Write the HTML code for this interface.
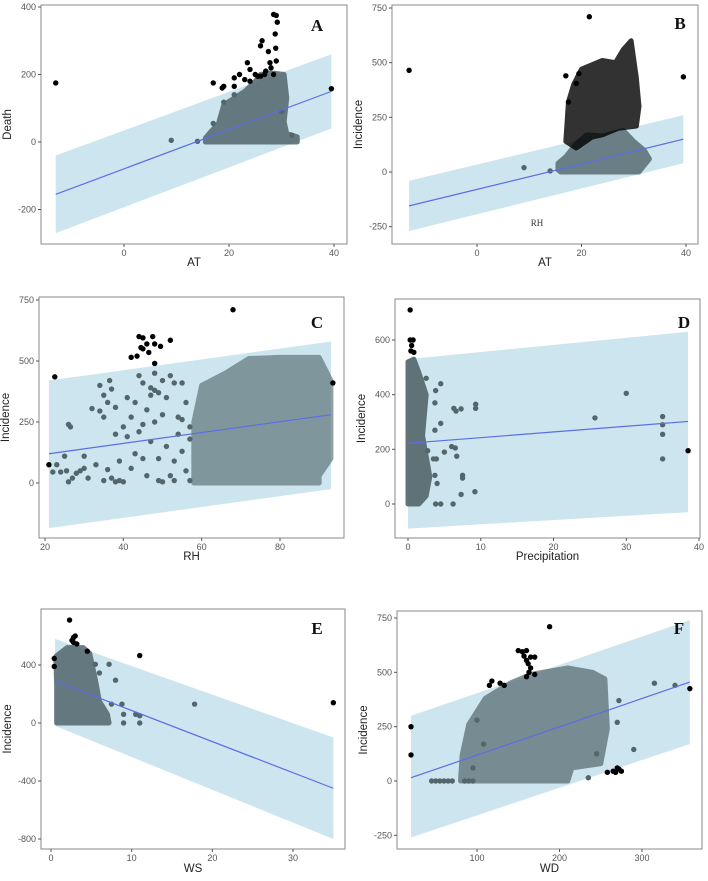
<!DOCTYPE html>
<html><head><meta charset="utf-8"><style>
body{margin:0;background:#fff}
svg{display:block;font-family:"Liberation Sans",sans-serif}
</style></head><body>
<svg id="fig" width="708" height="881" viewBox="0 0 708 881"></svg>
<script>
// ---- Panel A data ----
const aBand=[[-13,-270,-40],[39.5,40,260]];
const aLine=[[-13,-155],[39.5,150]];
const aCloud=[[15.5,0],[33,0],[33,15],[31,25],[30.5,60],[31,130],[30.5,200],[28,205],[26,200],[25,180],[23,150],[21,130],[19,110],[18,55],[16.5,30],[15.5,12]];
const aGray=[[9,5],[14,2],[19,118],[21,140],[17,55],[32,20],[30,90]];
const aBlack=[[-13,175],[39.5,158],[28.5,378],[29,375],[29.2,355],[26.3,300],[26,285],[28.8,320],[28.9,278],[27.5,268],[23.5,235],[24,215],[22,200],[21,190],[17,175],[19,165],[18.7,160],[21,165],[23,185],[24,180],[25,200],[26,195],[27,210],[28,220],[29,240],[27.8,235],[28.5,200],[26.8,200],[25.5,195]];
const aXTicks=[0,20,40], aYTicks=[-200,0,200,400];
// ---- Panel B data ----
const bBand=[[-13,-270,-40],[39.5,40,260]];
const bLine=[[-13,-155],[39.5,150]];
const bCloud=[[16,0],[31,0],[33,60],[32,100],[30,140],[28,190],[24,165],[21,170],[19,130],[17,70],[15.5,40],[15.5,10]];
const bCloud2=[[17,140],[19,110],[22,160],[24,170],[27,200],[30.5,210],[31,300],[30.5,430],[29.5,600],[28,560],[26.5,500],[24,510],[22,490],[20,470],[18.5,400],[17.5,320]];
const bGray=[[9,20],[14,5]];
const bBlack=[[-13,465],[39.5,435],[21.5,710],[17,440],[19,405],[19.5,450],[17.5,320]];
const bXTicks=[0,20,40], bYTicks=[-250,0,250,500,750];
// ---- Panel C data ----
const cBand=[[21,-185,420],[93,-25,580]];
const cLine=[[21,120],[93,280]];
const cCloud=[[58,0],[90,0],[90,30],[93,100],[93,290],[93,420],[90,515],[80,515],[72,510],[66,450],[60,400],[58,250]];
const cGray=[[22,45],[23,75],[24,45],[25,110],[26,240],[26.5,230],[25.5,50],[27,20],[26,5],[28,40],[30,110],[29,50],[32,305],[33,75],[34,295],[34,400],[35,360],[35,270],[36,330],[36.5,420],[37,385],[36,55],[37,20],[38,310],[38,200],[39,90],[39,10],[40,230],[41,350],[41,190],[42,60],[42,270],[43,330],[43,120],[44,440],[44,210],[45,240],[45,410],[46,300],[46,30],[47,360],[47,170],[48,380],[48,250],[49,100],[49,10],[50,420],[50,280],[51,150],[51,350],[52,440],[52,30],[53,410],[53,90],[54,270],[54,200],[55,410],[55,130],[56,50],[56,330],[57,230],[57,10],[53,10],[48,450],[45,100],[40,5],[30,60],[31,20],[35,10],[38,5],[50,5],[47,390],[49,370],[55,260],[57,180]];
const cBlack=[[22.5,435],[44,600],[45,595],[47.5,600],[52,585],[44.5,555],[46,570],[48,570],[49.5,560],[45,550],[46.5,535],[42,515],[43.5,520],[48,490],[68,710],[93.5,410],[21,75]];
const cXTicks=[20,40,60,80], cYTicks=[0,250,500,750];
// ---- Panel D data ----
const dBand=[[0,-90,530],[38.5,-30,630]];
const dLine=[[0,222],[38.5,302]];
const dCloud=[[0,0],[1.5,0],[2.5,30],[3,100],[2,250],[2.5,400],[1.5,480],[0.8,530],[0,520]];
const dGray=[[2.5,460],[4.5,440],[3.8,415],[3.7,370],[6.3,350],[6.6,340],[7.3,348],[9.3,365],[9.3,350],[4.5,295],[3.7,270],[6,210],[6.5,205],[5,190],[6.7,175],[2.7,195],[3.5,165],[3.9,165],[3.7,105],[7.5,105],[7.5,95],[4,75],[9.2,45],[7.3,35],[3.8,0],[4.5,0],[6.2,0],[25.7,315],[30,405],[35,320],[35,290],[35,255],[35,165]];
const dBlack=[[0.3,710],[0.3,600],[0.7,600],[0.5,580],[0.4,560],[0.8,555],[38.5,195]];
const dXTicks=[0,10,20,30,40], dYTicks=[0,200,400,600];
// ---- Panel E data ----
const eBand=[[0.5,-20,580],[35,-800,-100]];
const eLine=[[0.5,290],[35,-450]];
const eCloud=[[0.7,0],[7.2,0],[7,60],[6,150],[5.5,300],[4.8,480],[4,520],[2,520],[0.6,460],[0.7,250]];
const eGray=[[7.2,405],[5.5,405],[8,295],[6,345],[7.5,130],[8.8,130],[9,60],[9,0],[10.5,60],[11,50],[11,0],[17.8,130]];
const eBlack=[[2.3,710],[3,600],[2.8,590],[2.6,570],[2.8,555],[3.2,545],[4.5,495],[0.4,445],[0.4,390],[11,465],[35,140]];
const eXTicks=[0,10,20,30], eYTicks=[-800,-400,0,400];
// ---- Panel F data ----
const fBand=[[20,-260,300],[358,170,740]];
const fLine=[[20,15],[358,455]];
const fCloud=[[80,0],[210,0],[215,60],[250,80],[258,240],[255,470],[240,500],[210,520],[165,490],[140,450],[110,380],[90,260],[82,120]];
const fGray=[[45,0],[50,0],[55,0],[60,0],[65,0],[70,0],[85,0],[90,0],[95,0],[235,15],[270,270],[272,370],[290,145],[315,450],[340,440],[245,125],[108,170],[100,280],[95,60]];
const fBlack=[[20,250],[20,120],[188,710],[150,600],[155,595],[160,600],[157,575],[165,570],[170,570],[160,555],[162,540],[165,520],[163,500],[160,480],[170,490],[115,440],[118,460],[128,450],[133,440],[358,425],[258,40],[265,45],[270,60],[275,45],[272,55],[268,40]];
const fXTicks=[100,200,300], fYTicks=[-250,0,250,500,750];

const NS="http://www.w3.org/2000/svg";
const svg=document.getElementById('fig');
function mk(tag,attrs,parent){const e=document.createElementNS(NS,tag);for(const k in attrs)e.setAttribute(k,attrs[k]);(parent||svg).appendChild(e);return e;}
function lin(v0,p0,v1,p1){return v=>p0+(v-v0)*(p1-p0)/(v1-v0);}

const panels=[
 {id:'a',box:[41,5,347,244],sx:lin(0,124,40,334),sy:lin(0,142,400,7),band:aBand,line:aLine,clouds:[[aCloud,'#52666c',0.85]],gray:aGray,black:aBlack,xt:aXTicks,yt:aYTicks,xl:'AT',yl:'Death',let:'A',lp:[317,31],xly:266},
 {id:'b',box:[392,5,698,244],sx:lin(0,477,40,686),sy:lin(0,172,750,8),band:bBand,line:bLine,clouds:[[bCloud,'#52666c',0.8],[bCloud2,'#000',0.8]],gray:bGray,black:bBlack,xt:bXTicks,yt:bYTicks,xl:'AT',yl:'Incidence',let:'B',lp:[680,29],xly:266},
 {id:'c',box:[39,297,344,538],sx:lin(20,45,80,280),sy:lin(0,483,750,300),band:cBand,line:cLine,clouds:[[cCloud,'#52666c',0.62]],gray:cGray,black:cBlack,xt:cXTicks,yt:cYTicks,xl:'RH',yl:'Incidence',let:'C',lp:[317,328],xly:560},
 {id:'d',box:[395,299,700,538],sx:lin(0,408,40,699),sy:lin(0,504,600,340),band:dBand,line:dLine,clouds:[[dCloud,'#52666c',0.9]],gray:dGray,black:dBlack,xt:dXTicks,yt:dYTicks,xl:'Precipitation',yl:'Incidence',let:'D',lp:[684,328],xly:560},
 {id:'e',box:[41,609,345,849],sx:lin(0,51,30,293),sy:lin(0,723,400,665),band:eBand,line:eLine,clouds:[[eCloud,'#52666c',0.85]],gray:eGray,black:eBlack,xt:eXTicks,yt:eYTicks,xl:'WS',yl:'Incidence',let:'E',lp:[317,634],xly:872},
 {id:'f',box:[397,611,702,849],sx:lin(100,477,300,642),sy:lin(0,781,750,618),band:fBand,line:fLine,clouds:[[fCloud,'#52666c',0.7]],gray:fGray,black:fBlack,xt:fXTicks,yt:fYTicks,xl:'WD',yl:'Incidence',let:'F',lp:[679,634],xly:872}
];

panels.forEach(p=>{
  const g=mk('g',{});
  
  
  const [x0,y0,x1,y1]=p.box;
  const b=p.band;
  const pts=b.map(r=>p.sx(r[0])+','+p.sy(r[2])).concat(b.slice().reverse().map(r=>p.sx(r[0])+','+p.sy(r[1])));
  const band=mk('polygon',{points:pts.join(' '),fill:'#cde5ee'},g);
  
  
  p.clouds.forEach(c=>{
    const cg=mk('g',{opacity:c[2]},g);
    const poly=mk('polygon',{points:c[0].map(q=>p.sx(q[0])+','+p.sy(q[1])).join(' '),fill:c[1],stroke:c[1],'stroke-width':5,'stroke-linejoin':'round'},cg);
    
    
  });
  p.gray.forEach(q=>{
    const c=mk('circle',{cx:p.sx(q[0]),cy:p.sy(q[1]),r:2.7,fill:'#52666c'},g);
    
    
  });
  const l=mk('line',{x1:p.sx(p.line[0][0]),y1:p.sy(p.line[0][1]),x2:p.sx(p.line[1][0]),y2:p.sy(p.line[1][1]),stroke:'#5a6ee6','stroke-width':1.2},g);
  
  
  p.black.forEach(q=>{
    const c=mk('circle',{cx:p.sx(q[0]),cy:p.sy(q[1]),r:2.7,fill:'#000'},g);
    
    
  });
  const fr=mk('rect',{x:x0,y:y0,width:x1-x0,height:y1-y0,fill:'none',stroke:'#8a8a8a','stroke-width':1},g);
  
  
  p.xt.forEach(t=>{
    const x=p.sx(t);
    mk('line',{x1:x,y1:y1,x2:x,y2:y1+3,stroke:'#555'},g);
    const tx=mk('text',{x:x,y:y1+12,'font-size':9,fill:'#555','text-anchor':'middle'},g);
    tx.textContent=t;
    
    
  });
  p.yt.forEach(t=>{
    const y=p.sy(t);
    mk('line',{x1:x0-3,y1:y,x2:x0,y2:y,stroke:'#555'},g);
    const tx=mk('text',{x:x0-5,y:y+3,'font-size':9,fill:'#555','text-anchor':'end'},g);
    tx.textContent=t;
    
    
  });
  const xl=mk('text',{x:(x0+x1)/2,y:p.xly,'font-size':11.5,fill:'#222','text-anchor':'middle'},g);
  xl.textContent=p.xl;
  
  
  const yc=(y0+y1)/2, yx=x0-30;
  const yl=mk('text',{x:yx,y:yc,'font-size':11.5,fill:'#222','text-anchor':'middle',transform:'rotate(-90 '+yx+' '+yc+')'},g);
  yl.textContent=p.yl;
  
  
  const lt=mk('text',{x:p.lp[0],y:p.lp[1],'font-size':17,'font-weight':'bold','font-family':'"Liberation Serif",serif',fill:'#111','text-anchor':'middle'},g);
  lt.textContent=p.let;
  
  
});
const rh=mk('text',{x:537,y:226,'font-size':9,'font-family':'"Liberation Serif",serif',fill:'#333','text-anchor':'middle'});
rh.textContent='RH';


</script>
</body></html>
